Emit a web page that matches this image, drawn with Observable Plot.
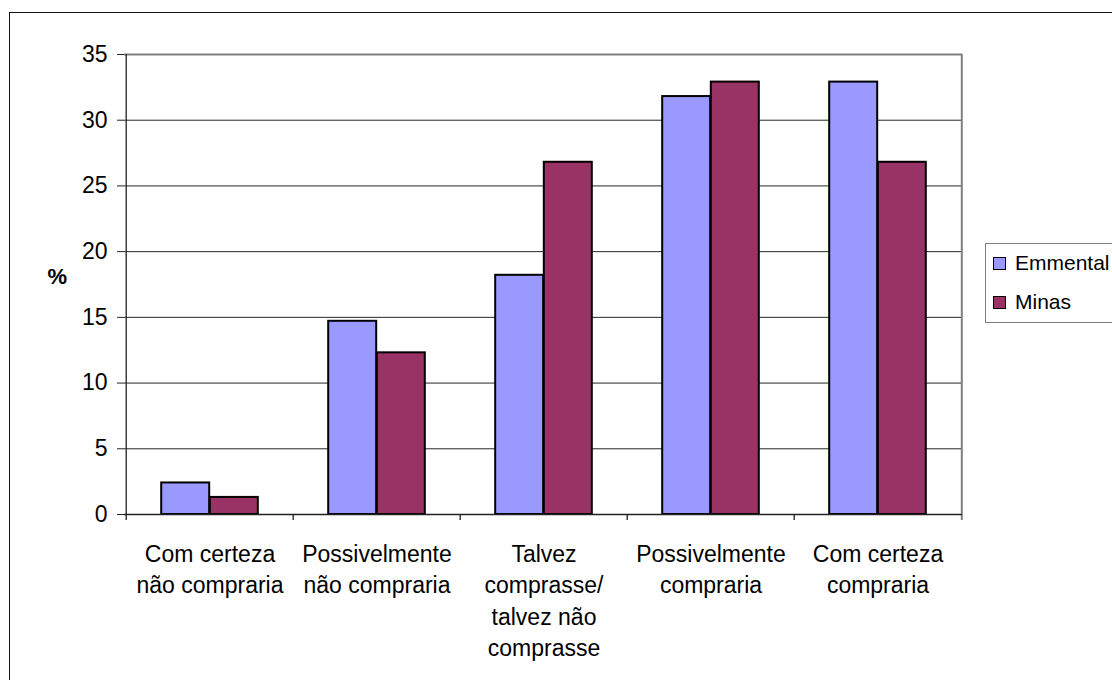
<!DOCTYPE html>
<html>
<head>
<meta charset="utf-8">
<script src="https://cdn.jsdelivr.net/npm/d3@7"></script>
<script src="https://cdn.jsdelivr.net/npm/@observablehq/plot@0.6"></script>
<style>
  html, body { margin: 0; padding: 0; background: #fff; overflow: hidden; }
  #wrap { position: relative; width: 1112px; height: 680px; overflow: hidden; font-family: "Liberation Sans", Arial, sans-serif; }
  #outer { position: absolute; left: 9px; top: 12px; width: 1200px; height: 800px; border-left: 1.5px solid #111; border-top: 1.5px solid #111; box-sizing: border-box; }
  #chart { position: absolute; left: 0; top: 0; }
  #legend { position: absolute; left: 985px; top: 243px; width: 160px; height: 80px; border: 1.5px solid #808080; box-sizing: border-box; background: #fff; }
  .item { position: absolute; left: 7px; display: flex; align-items: center; font-size: 21px; color: #000; }
  .sw { width: 11px; height: 11px; border: 1.5px solid #000; margin-right: 9px; }
</style>
</head>
<body>
<div id="wrap">
  <div id="outer"></div>
  <div id="chart"></div>
  <div id="legend"></div>
</div>
<script>
const categories = [
  "Com certeza\nnão compraria",
  "Possivelmente\nnão compraria",
  "Talvez\ncomprasse/\ntalvez não\ncomprasse",
  "Possivelmente\ncompraria",
  "Com certeza\ncompraria"
];
const series = ["Emmental", "Minas"];
const colors = ["#9999FF", "#993366"];
const emmental = [2.4, 14.7, 18.2, 31.8, 32.9];
const minas = [1.3, 12.3, 26.8, 32.9, 26.8];
const yTicks = [0, 5, 10, 15, 20, 25, 30, 35];

const rows = [];
categories.forEach((c, i) => {
  rows.push({category: c, series: "Emmental", value: emmental[i]});
  rows.push({category: c, series: "Minas", value: minas[i]});
});

const W = 1112, H = 680;
const mL = 124, mR = 150, mT = 54, mB = 166;
const bw = (W - mL - mR) / categories.length;
const barW = bw * 0.29;
const gray = "#808080";

const chart = Plot.plot({
  width: W,
  height: H,
  marginLeft: mL,
  marginRight: mR,
  marginTop: mT,
  marginBottom: mB,
  style: {fontFamily: "'Liberation Sans', Arial, sans-serif", fontSize: "23px", color: "#000", background: "transparent"},
  x: {domain: categories, padding: 0, axis: null},
  y: {domain: [0, 35], axis: null},
  color: {domain: series, range: colors},
  marks: [
    Plot.gridY(yTicks.slice(1, -1), {stroke: "#000", strokeOpacity: 0.85, strokeWidth: 1}),
    Plot.ruleY([35], {stroke: gray, strokeWidth: 2}),
    Plot.ruleX([categories[categories.length - 1]], {x: d => d, dx: bw / 2, y1: -0.45, y2: 35, stroke: gray, strokeWidth: 2}),
    Plot.barY(rows.filter(d => d.series === "Emmental"), {
      x: "category", y: "value", fill: "series",
      insetLeft: bw / 2 - barW, insetRight: bw / 2,
      stroke: "#000", strokeWidth: 2
    }),
    Plot.barY(rows.filter(d => d.series === "Minas"), {
      x: "category", y: "value", fill: "series",
      insetLeft: bw / 2, insetRight: bw / 2 - barW,
      stroke: "#000", strokeWidth: 2
    }),
    Plot.ruleY([0], {stroke: "#222", strokeWidth: 1.3}),
    Plot.ruleX([categories[0]], {x: d => d, dx: -bw / 2, y1: -0.45, y2: 35, stroke: "#222", strokeWidth: 1.3}),
    Plot.ruleX(categories.slice(1), {x: d => d, dx: -bw / 2, y1: -0.45, y2: 0, stroke: "#222", strokeWidth: 1.3}),
    Plot.axisY(yTicks, {tickSize: 7, tickPadding: 10, fontSize: 23, label: null, stroke: "#222"}),
    Plot.text(categories, {x: d => d, y: 0, text: d => d, lineAnchor: "top", dy: 25, lineHeight: 1.37, fontSize: 23, fill: "#000"}),
    Plot.text(["%"], {frameAnchor: "left", dx: -77, dy: -8, fontWeight: "bold", fontSize: 22, fill: "#000"})
  ]
});
document.getElementById("chart").appendChild(chart);

const legend = document.getElementById("legend");
series.forEach((s, i) => {
  const item = document.createElement("div");
  item.className = "item";
  item.style.top = (i === 0 ? 7 : 46) + "px";
  const sw = document.createElement("div");
  sw.className = "sw";
  sw.style.background = colors[i];
  const t = document.createElement("span");
  t.textContent = s;
  item.appendChild(sw);
  item.appendChild(t);
  legend.appendChild(item);
});
</script>
</body>
</html>
